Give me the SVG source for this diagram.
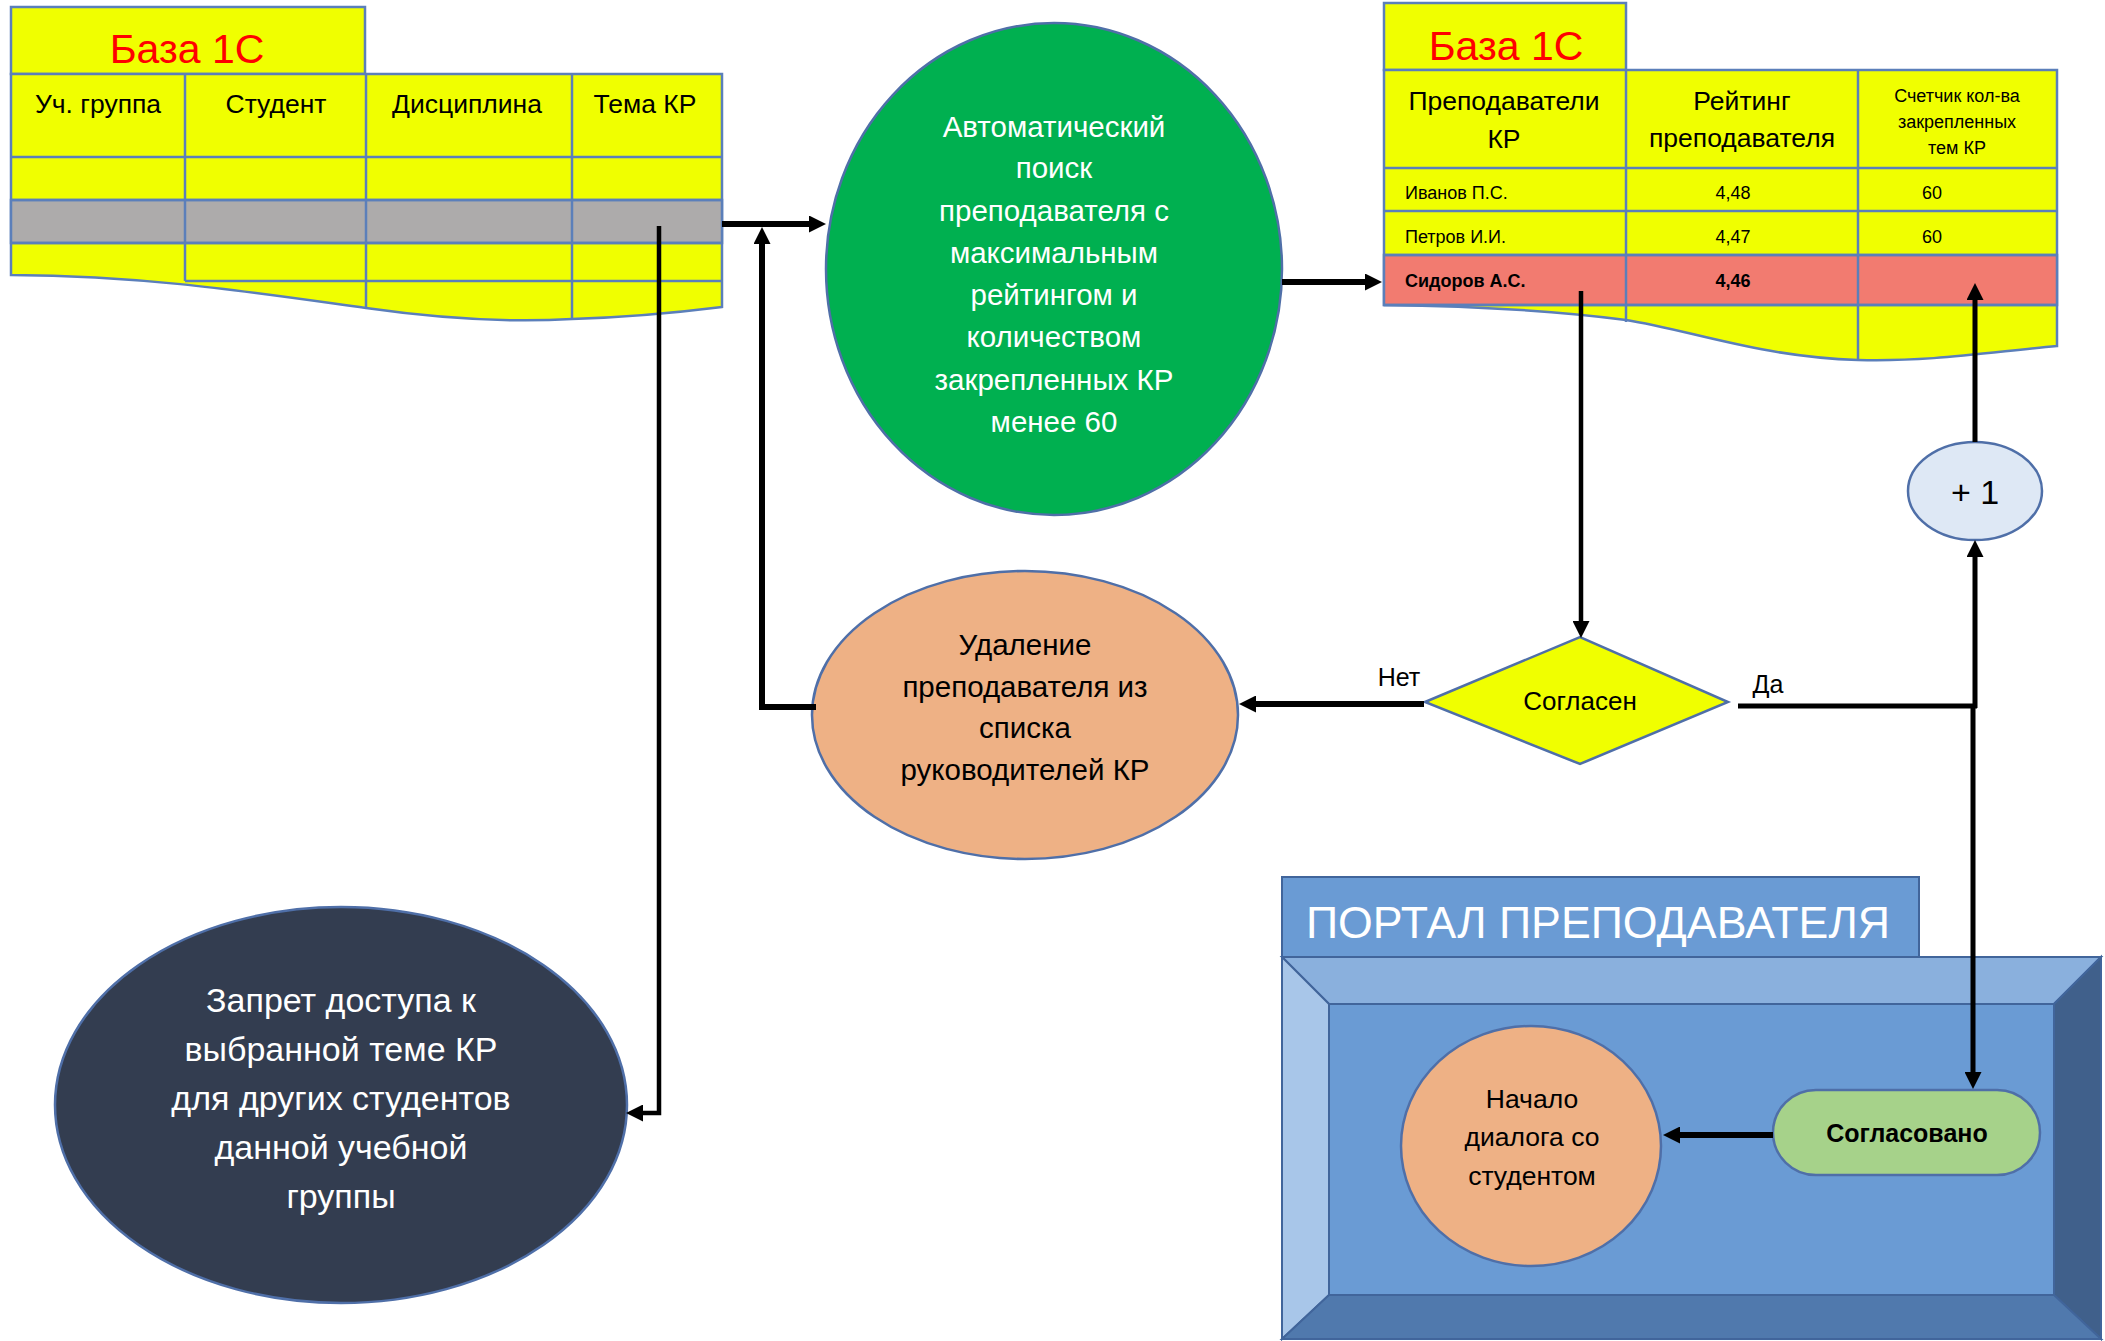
<svg xmlns="http://www.w3.org/2000/svg" width="2105" height="1341" viewBox="0 0 2105 1341">
<defs>
<style>
text{font-family:"Liberation Sans",Arial,sans-serif;text-anchor:middle}
.grid{stroke:#5B7FBA;stroke-width:2.5;fill:none}
.cell{stroke:#5B7FBA;stroke-width:2.5}
.yel{fill:#F0FF00}
.red{fill:#FF0000;font-size:41px}
.hdr{font-size:26.5px;fill:#000}
.sm{font-size:18px;fill:#000}
.wt{fill:#fff}
.bk{fill:#000}
.node{stroke:#4F6FA8;stroke-width:2.5}
.conn path{fill:none;stroke:#000;stroke-linejoin:miter}
.bev{stroke:#41659B;stroke-width:2}
</style>
<marker id="ah" markerWidth="17" markerHeight="17" refX="3" refY="8.5" orient="auto" markerUnits="userSpaceOnUse"><path d="M0,0 L17,8.5 L0,17 z" fill="#000"/></marker>
</defs>
<rect width="2105" height="1341" fill="#fff"/>

<g id="db-left">
<rect x="11" y="7" width="354" height="67" class="yel cell"/>
<text x="187" y="63" class="red">База 1С</text>
<path d="M11,74 H722 V307 C690,311 640,317 572,319 C520,322 450,320 366,308 C250,292 150,276 11,275 Z" class="yel cell"/>
<rect x="11" y="200" width="711" height="43" fill="#ADABAB" class="cell"/>
<path class="grid" d="M11,157 H722 M11,200 H722 M11,243 H722 M185,281 H722 M185,74 V281 M366,74 V309 M572,74 V319"/>
<text x="98" y="113" class="hdr">Уч. группа</text>
<text x="276" y="113" class="hdr">Студент</text>
<text x="467" y="113" class="hdr">Дисциплина</text>
<text x="645" y="113" class="hdr">Тема КР</text>
</g>

<g id="db-right">
<rect x="1384" y="3" width="242" height="67" class="yel cell"/>
<text x="1506" y="60" class="red">База 1С</text>
<path d="M1384,70 H2057 V346 C1990,352 1930,362 1858,360 C1760,357 1690,330 1626,320 C1550,310 1460,306 1384,305 Z" class="yel cell"/>
<rect x="1384" y="255" width="673" height="50" fill="#F27B70" class="cell"/>
<path class="grid" d="M1384,168 H2057 M1384,211 H2057 M1384,255 H2057 M1384,305 H2057 M1626,70 V322 M1858,70 V360"/>
<text x="1504" y="110" class="hdr">Преподаватели</text>
<text x="1504" y="148" class="hdr">КР</text>
<text x="1742" y="110" class="hdr">Рейтинг</text>
<text x="1742" y="147" class="hdr">преподавателя</text>
<text x="1957" y="102" class="sm">Счетчик кол-ва</text>
<text x="1957" y="128" class="sm">закрепленных</text>
<text x="1957" y="154" class="sm">тем КР</text>
<text x="1405" y="199" class="sm" style="text-anchor:start">Иванов П.С.</text>
<text x="1733" y="199" class="sm">4,48</text>
<text x="1932" y="199" class="sm">60</text>
<text x="1405" y="243" class="sm" style="text-anchor:start">Петров И.И.</text>
<text x="1733" y="243" class="sm">4,47</text>
<text x="1932" y="243" class="sm">60</text>
<text x="1405" y="287" class="sm" style="text-anchor:start;font-weight:bold">Сидоров А.С.</text>
<text x="1733" y="287" class="sm" style="font-weight:bold">4,46</text>
</g>

<g id="auto-search">
<ellipse cx="1054" cy="269" rx="228" ry="246" fill="#00B050" class="node"/>
<g class="wt" style="font-size:29.5px">
<text x="1054" y="137">Автоматический</text>
<text x="1054" y="178">поиск</text>
<text x="1054" y="221">преподавателя с</text>
<text x="1054" y="263">максимальным</text>
<text x="1054" y="305">рейтингом и</text>
<text x="1054" y="347">количеством</text>
<text x="1054" y="390">закрепленных КР</text>
<text x="1054" y="432">менее 60</text>
</g>
</g>

<g id="remove">
<ellipse cx="1025" cy="715" rx="213" ry="144" fill="#EEB185" class="node"/>
<g class="bk" style="font-size:29.5px">
<text x="1025" y="655">Удаление</text>
<text x="1025" y="697">преподавателя из</text>
<text x="1025" y="738">списка</text>
<text x="1025" y="780">руководителей КР</text>
</g>
</g>

<g id="decision">
<polygon points="1425,702 1580,637 1728,702 1580,764" fill="#F0FF00" class="node"/>
<text x="1580" y="710" class="bk" style="font-size:26px">Согласен</text>
</g>

<g id="plus-one">
<ellipse cx="1975" cy="491" rx="67" ry="49" fill="#DEE8F5" class="node"/>
<text x="1975" y="504" class="bk" style="font-size:34px">+ 1</text>
</g>

<g id="deny">
<ellipse cx="341" cy="1105" rx="286" ry="198" fill="#333D50" class="node"/>
<g class="wt" style="font-size:34px">
<text x="341" y="1012">Запрет доступа к</text>
<text x="341" y="1061">выбранной теме КР</text>
<text x="341" y="1110">для других студентов</text>
<text x="341" y="1159">данной учебной</text>
<text x="341" y="1208">группы</text>
</g>
</g>

<g id="portal">
<rect x="1282" y="877" width="637" height="80" fill="#6A9BD4" class="bev"/>
<text x="1306" y="938" class="wt" style="font-size:45px;text-anchor:start" textLength="584" lengthAdjust="spacingAndGlyphs">ПОРТАЛ ПРЕПОДАВАТЕЛЯ</text>
<polygon points="1282,957 2101,957 2054,1004 1329,1004" fill="#8AB0DD" class="bev"/>
<polygon points="1282,957 1329,1004 1329,1295 1282,1339" fill="#A8C6E9" class="bev"/>
<polygon points="2101,957 2101,1339 2054,1295 2054,1004" fill="#40608B" class="bev"/>
<polygon points="1282,1339 1329,1295 2054,1295 2101,1339" fill="#5079AD" class="bev"/>
<rect x="1329" y="1004" width="725" height="291" fill="#6A9BD4" class="bev"/>
</g>

<g id="dialog">
<ellipse cx="1531" cy="1146" rx="130" ry="120" fill="#EEB185" class="node"/>
<g class="bk" style="font-size:26.5px">
<text x="1532" y="1108">Начало</text>
<text x="1532" y="1146">диалога со</text>
<text x="1532" y="1185">студентом</text>
</g>
</g>

<g id="approved">
<rect x="1773" y="1090" width="267" height="85" rx="43" ry="43" fill="#A6D28A" class="node"/>
<text x="1907" y="1142" class="bk" style="font-size:25px;font-weight:bold">Согласовано</text>
</g>

<g id="labels" class="bk" style="font-size:25px">
<text x="1399" y="686">Нет</text>
<text x="1768" y="693">Да</text>
</g>

<g id="connectors" class="conn">
<path d="M722,224 H812" stroke-width="6" marker-end="url(#ah)"/>
<path d="M816,707 H762 V241" stroke-width="6" marker-end="url(#ah)"/>
<path d="M659,226 V1113 H640" stroke-width="4.5" marker-end="url(#ah)"/>
<path d="M1282,282 H1368" stroke-width="6" marker-end="url(#ah)"/>
<path d="M1581,291 V624" stroke-width="4.5" marker-end="url(#ah)"/>
<path d="M1424,704 H1253" stroke-width="6" marker-end="url(#ah)"/>
<path d="M1738,706 H1977" stroke-width="5"/>
<path d="M1975,708 V554" stroke-width="5" marker-end="url(#ah)"/>
<path d="M1975,442 V297" stroke-width="5" marker-end="url(#ah)"/>
<path d="M1973,704 V1075" stroke-width="5" marker-end="url(#ah)"/>
<path d="M1773,1135 H1677" stroke-width="6" marker-end="url(#ah)"/>
</g>
</svg>
